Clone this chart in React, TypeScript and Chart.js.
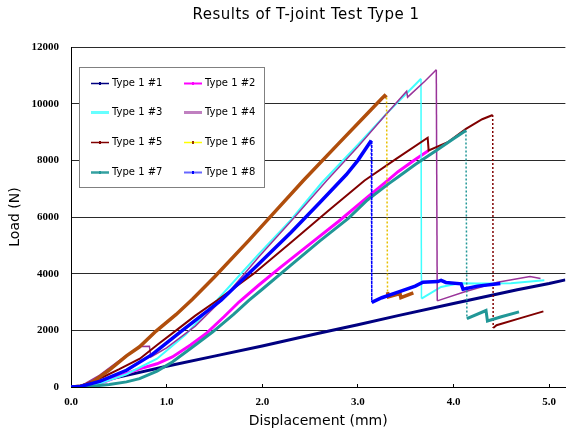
import React, { useEffect, useRef } from "react";
import { Chart, registerables } from "chart.js";
Chart.register(...registerables);

const chartTitle = "Results of T-joint Test Type 1";
const xTitle = "Displacement (mm)";
const yTitle = "Load (N)";
const seriesLabels = ["Type 1 #1", "Type 1 #2", "Type 1 #3", "Type 1 #4", "Type 1 #5", "Type 1 #6", "Type 1 #7", "Type 1 #8"];
const xTicks = [0, 1, 2, 3, 4, 5];
const yTicks = [0, 2000, 4000, 6000, 8000, 10000, 12000];

const s1X = [0, 0.1, 0.3, 0.58, 1.0, 1.5, 2.0, 2.59, 3.0, 3.42, 4.0, 4.667, 5.0, 5.17];
const s1Y = [0, 40, 200, 410, 730, 1090, 1450, 1900, 2200, 2520, 2950, 3430, 3650, 3780];

const s2X = [0, 0.1, 0.2, 0.35, 0.5, 0.717, 0.9, 1.06, 1.25, 1.41, 1.6, 1.757, 1.965, 2.2, 2.5, 2.8, 3.1, 3.316, 3.42, 3.6, 3.74];
const s2Y = [0, 15, 50, 180, 380, 640, 820, 1060, 1480, 1880, 2480, 3000, 3600, 4250, 5050, 5850, 6700, 7300, 7600, 8030, 8350];

const s3X = [0, 0.15, 0.3, 0.58, 0.9, 1.2, 1.55, 1.965, 2.3, 2.62, 3.0, 3.3, 3.5, 3.66, 3.665, 3.87, 4.06, 4.25, 4.6, 4.95];
const s3Y = [0, 20, 120, 450, 1000, 1850, 3150, 4700, 5900, 7200, 8550, 9650, 10330, 10880, 3120, 3530, 3660, 3650, 3660, 3770];

const s4X = [0, 0.1, 0.3, 0.5, 0.72, 0.82, 0.835, 1.0, 1.3, 1.6, 1.965, 2.3, 2.675, 3.0, 3.3, 3.51, 3.52, 3.7, 3.82, 3.83, 4.11, 4.46, 4.8, 4.91];
const s4Y = [0, 30, 420, 920, 1430, 1440, 1060, 1380, 2150, 3150, 4600, 5850, 7290, 8480, 9640, 10440, 10230, 10790, 11200, 3040, 3350, 3700, 3900, 3830];

const s5X = [0, 0.1, 0.336, 0.5, 0.72, 0.9, 1.1, 1.3, 1.53, 1.91, 2.3, 2.7, 3.07, 3.4, 3.73, 3.74, 3.94, 4.13, 4.3, 4.41, 4.415, 4.45, 4.7, 4.94];
const s5Y = [0, 30, 353, 620, 1000, 1480, 2000, 2520, 3060, 4000, 5100, 6250, 7290, 8050, 8800, 8350, 8640, 9110, 9450, 9600, 2080, 2180, 2430, 2670];

const s6X = [0, 0.1, 0.2, 0.4, 0.58, 0.717, 0.89, 1.1, 1.27, 1.5, 1.86, 2.15, 2.43, 2.8, 3.1, 3.25, 3.28, 3.3, 3.31, 3.32, 3.44, 3.45, 3.58];
const s6Y = [0, 30, 120, 600, 1100, 1420, 1975, 2560, 3100, 3880, 5175, 6250, 7290, 8600, 9650, 10180, 10280, 10220, 3350, 3180, 3300, 3150, 3320];

const s7X = [0, 0.2, 0.4, 0.58, 0.717, 0.9, 1.06, 1.3, 1.48, 1.7, 1.86, 2.0, 2.3, 2.6, 2.9, 3.1, 3.32, 3.42, 3.6, 3.82, 4.0, 4.13, 4.14, 4.34, 4.355, 4.5, 4.685];
const s7Y = [0, 20, 90, 180, 296, 560, 880, 1480, 1940, 2560, 3060, 3450, 4300, 5150, 5950, 6600, 7170, 7410, 7850, 8350, 8760, 9050, 2410, 2700, 2330, 2480, 2650];

const s8X = [0, 0.1, 0.3, 0.58, 0.85, 1.165, 1.57, 1.965, 2.3, 2.6, 2.88, 3.0, 3.14, 3.145, 3.25, 3.42, 3.6, 3.68, 3.835, 3.87, 3.92, 4.08, 4.1, 4.25, 4.49];
const s8Y = [0, 20, 200, 590, 1150, 2000, 3060, 4350, 5450, 6500, 7500, 8000, 8700, 2990, 3150, 3350, 3560, 3700, 3720, 3760, 3690, 3640, 3450, 3560, 3650];

const seriesX = [s1X, s2X, s3X, s4X, s5X, s6X, s7X, s8X];
const seriesY = [s1Y, s2Y, s3Y, s4Y, s5Y, s6Y, s7Y, s8Y];

// styles
const lineColors = ["#000080", "#FF00FF", "#40FFFF", "#993399", "#800000", "#B04E0C", "#219797", "#0000FF"];
const dropColors = ["#000080", "#FF00FF", "#40FFFF", "#993399", "#800000", "#E8C000", "#219797", "#0000FF"];
const lineWidths = [3, 3, 2, 1.5, 2, 3.5, 3, 3.5];
const dropDashed = [false, false, false, false, true, true, true, true];
const legendColors = ["#000080", "#FF00FF", "#66FFFF", "#C080C0", "#800000", "#FFFF00", "#33A0A0", "#6666FF"];
const legendWidths = [1.5, 2, 3, 3, 1.5, 1.5, 2.5, 2];
const legendMarkers = ["#000080", "#FF00FF", null, null, "#800000", "#993300", "#219797", "#0000FF"];

const isDrop = (ctx: any) =>
  Math.abs(ctx.p1.parsed.x - ctx.p0.parsed.x) < 0.03 && ctx.p0.parsed.y - ctx.p1.parsed.y > 1500;

const titlePlugin = {
  id: "customTitle",
  afterDraw(chart: any) {
    const c = chart.ctx;
    c.save();
    c.font = '15px "DejaVu Sans"';
    try {
      (c as any).letterSpacing = "0.5px";
    } catch (e) {}
    c.fillStyle = "#000";
    c.textAlign = "center";
    c.textBaseline = "middle";
    c.fillText(chartTitle, 306, 15);
    c.restore();
  },
};

const legendPlugin = {
  id: "boxLegend",
  afterDatasetsDraw(chart: any) {
    const c = chart.ctx;
    const a = chart.chartArea;
    const left = a.left + 8.5;
    const top = a.top + 20.5;
    const w = 185;
    const h = 120;
    c.save();
    c.fillStyle = "#fff";
    c.fillRect(left, top, w, h);
    c.strokeStyle = "#808080";
    c.lineWidth = 1;
    c.strokeRect(left, top, w, h);
    c.font = '10px "DejaVu Sans"';
    c.textBaseline = "middle";
    c.textAlign = "left";
    chart.data.datasets.forEach((ds: any, i: number) => {
      const col = i % 2;
      const row = Math.floor(i / 2);
      const x0 = left + 11.5 + col * 93;
      const y = Math.round(top + 15 + row * 29.7) + 0.5;
      c.strokeStyle = legendColors[i];
      c.lineWidth = legendWidths[i];
      c.beginPath();
      c.moveTo(x0, y);
      c.lineTo(x0 + 18, y);
      c.stroke();
      const m = legendMarkers[i];
      if (m) {
        c.fillStyle = m;
        c.fillRect(x0 + 8, y - 1.5, 2, 3);
      }
      c.fillStyle = "#000";
      c.fillText(ds.label, x0 + 21, y);
    });
    c.restore();
  },
};

export default function App() {
  const ref = useRef<HTMLCanvasElement | null>(null);
  useEffect(() => {
    if (!ref.current) return;
    const datasets = seriesLabels.map((label, i) => ({
      label,
      data: seriesX[i].map((x, k) => ({ x, y: seriesY[i][k] })),
      borderColor: lineColors[i],
      backgroundColor: lineColors[i],
      borderWidth: lineWidths[i],
      pointRadius: 0,
      tension: 0,
      fill: false,
      order: 8 - i,
      segment: {
        borderColor: (ctx: any) => (isDrop(ctx) ? dropColors[i] : undefined),
        borderWidth: (ctx: any) => (isDrop(ctx) ? 1.5 : undefined),
        borderDash: (ctx: any) => (isDrop(ctx) && dropDashed[i] ? [2, 2] : undefined),
      },
    }));
    const chart = new Chart(ref.current, {
      type: "line",
      data: { datasets },
      options: {
        animation: false,
        responsive: false,
        devicePixelRatio: 1,
        layout: { padding: { left: 0, right: 0, top: 47, bottom: 0 } },
        plugins: { legend: { display: false }, title: { display: false }, tooltip: { enabled: false } },
        scales: {
          x: {
            type: "linear",
            min: 0,
            max: 5.17,
            afterBuildTicks: (s: any) => {
              s.ticks = xTicks.map((v) => ({ value: v }));
            },
            afterFit: (s: any) => {
              s.height = 43;
            },
            grid: { display: true, drawOnChartArea: false, drawTicks: true, tickLength: -3, color: "#000" },
            border: { display: true, color: "#000", width: 1 },
            ticks: {
              padding: 12,
              color: "#000",
              maxRotation: 0,
              autoSkip: false,
              font: { family: '"Liberation Serif", serif', size: 11, weight: "bold" },
              callback: (v: any) => Number(v).toFixed(1),
            },
            title: {
              display: true,
              text: xTitle,
              color: "#000",
              font: { family: '"DejaVu Sans"', size: 14 },
              padding: { top: 0, bottom: 0 },
            },
          },
          y: {
            type: "linear",
            min: 0,
            max: 12000,
            afterBuildTicks: (s: any) => {
              s.ticks = yTicks.map((v) => ({ value: v }));
            },
            afterFit: (s: any) => {
              s.width = 71;
            },
            grid: { color: "#2a2a2a", drawTicks: false, lineWidth: 1 },
            border: { display: true, color: "#000", width: 1 },
            ticks: {
              padding: 12,
              color: "#000",
              font: { family: '"Liberation Serif", serif', size: 11, weight: "bold" },
              callback: (v: any) => String(v),
            },
            title: {
              display: true,
              text: yTitle,
              color: "#000",
              font: { family: '"DejaVu Sans"', size: 14 },
              padding: { top: 7, bottom: 0 },
            },
          },
        },
      },
      plugins: [titlePlugin, legendPlugin],
    } as any);
    return () => chart.destroy();
  }, []);
  return (
    <div style={{ position: "absolute", left: 0, top: 0, width: 568, height: 430, background: "#fff" }}>
      <canvas ref={ref} width={568} height={430} style={{ display: "block" }} />
    </div>
  );
}
